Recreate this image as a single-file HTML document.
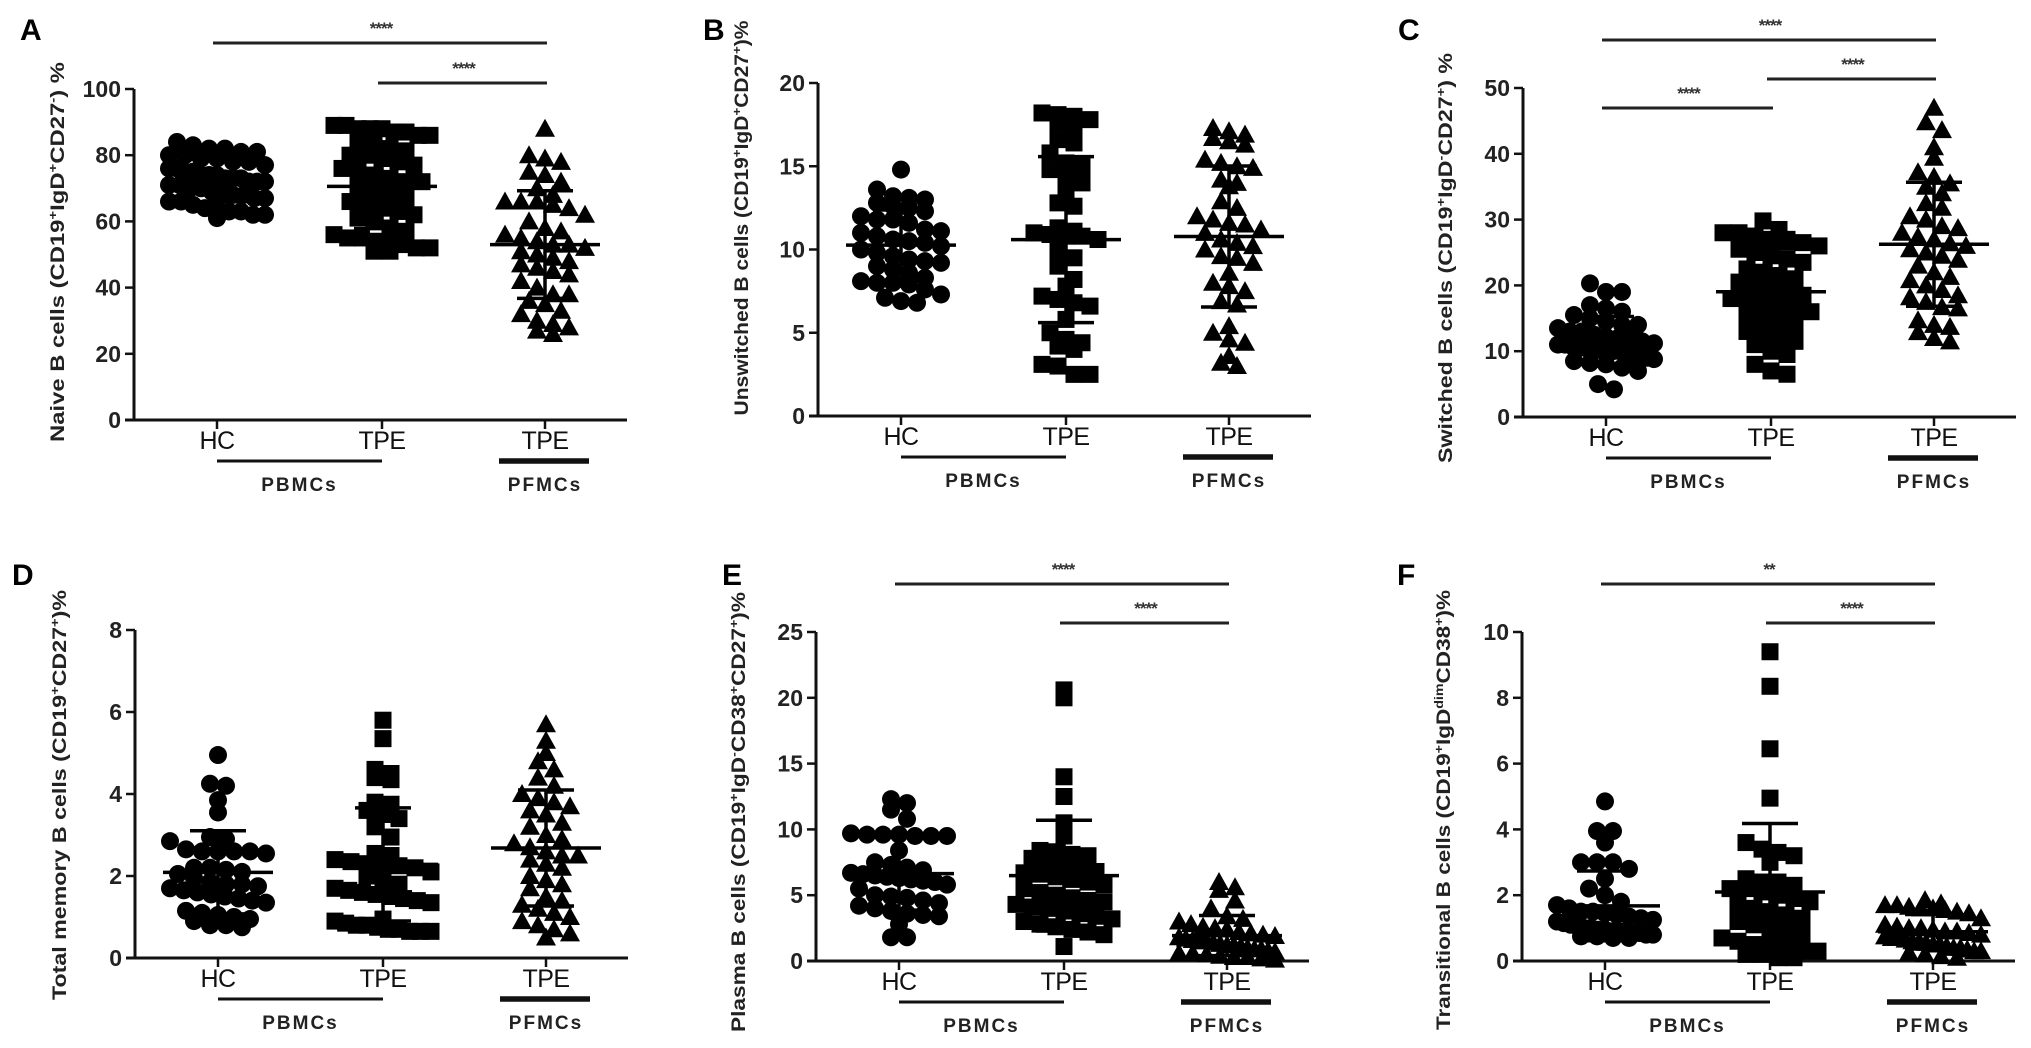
<!DOCTYPE html>
<html><head><meta charset="utf-8"><style>
html,body{margin:0;padding:0;background:#fff;}
svg{display:block;font-family:"Liberation Sans",Arial,sans-serif;}
</style></head><body>
<svg id="fig" width="2031" height="1048" viewBox="0 0 2031 1048" xmlns="http://www.w3.org/2000/svg"></svg>
<script>
// ---- categories ----
const groupLabels = ["HC", "TPE", "TPE"];
const sourceLabels = ["PBMCs", "PFMCs"];
// ---- panel A: naive B cells ----
const naiveHC = [84,83,82,82,81,81,80,80,79,79,78,78,77,76,76,75,75,74,74,74,73,73,73,72,72,72,71,71,70,70,69,69,68,68,67,67,66,66,65,64,64,63,63,62,62,61];
const naiveTPE = [89,89,88,88,88,87,87,86,86,85,84,82,81,80,80,79,78,77,76,75,74,73,72,72,70,69,68,67,66,65,64,63,62,61,60,58,57,56,55,55,54,53,53,52,52,51,51];
const naivePF = [88,80,79,78,75,74,72,70,68,66,66,66,65,64,62,60,58,57,56,55,54,53,53,52,51,50,49,48,47,46,45,44,42,40,38,38,36,35,33,32,30,29,28,27,26];
const naiveTicks = [0,20,40,60,80,100];
// ---- panel B: unswitched ----
const unswHC = [14.8,13.6,13.2,13.1,13.0,12.8,12.6,12.5,12.3,12.0,11.8,11.8,11.6,11.2,11.1,11.0,10.8,10.6,10.5,10.4,10.2,10.0,9.8,9.6,9.4,9.3,9.2,9.0,8.8,8.6,8.3,8.1,8.0,8.0,7.9,7.6,7.3,7.1,6.9,6.8];
const unswTPE = [18.2,18.1,18.0,17.8,17.6,17.2,16.6,16.4,15.8,15.2,15.0,14.8,14.3,14.0,13.6,12.8,12.6,11.3,11.1,11.0,10.9,10.8,10.8,10.6,9.9,9.5,9.0,8.2,7.8,7.2,7.0,6.8,6.6,5.8,5.0,4.6,4.4,4.2,4.0,3.1,3.0,2.5,2.5];
const unswPF = [17.3,17.1,16.9,16.7,16.5,16.3,15.4,15.2,15.0,14.9,14.2,14.0,13.8,12.9,12.5,12.0,11.8,11.6,11.5,11.2,11.0,10.6,10.4,10.2,10.0,9.6,9.5,9.2,8.6,8.0,7.8,7.5,6.9,6.7,5.4,5.0,4.6,4.4,3.6,3.2,3.0];
const unswTicks = [0,5,10,15,20];
// ---- panel C: switched ----
const swHC = [20.3,19,19,17,16.5,16,15.5,15,14.5,14,14,13.5,13,13,12.5,12,12,11.5,11,11,10.5,10.5,10.3,10.2,10,10,10,9.8,9.5,9.2,9,8.8,8.5,8.2,8,7.5,7,5,4.2,10.8,11.2,12.2];
const swTPE = [29.8,28.5,28,28,27.5,27,27,26.5,26,25.5,25,24.5,24,23.5,22.5,22,21.5,21,20.5,20,19.5,19,18.5,18,18,17.5,17,16.5,16,15.5,15,14.5,14,13,12.5,12,11.5,11,10,9.5,8,7,6.5];
const swPF = [47,44.8,43.6,41,39.4,37.2,36.5,35.5,35,34,32.5,31.8,30.5,30,29,28.7,28,27.4,27,26.4,26,25.5,25,24.5,23.9,23,22,21.3,20.8,20,19.3,18.5,18.2,17.5,16.7,16.5,14.7,14,13.7,12.9,12,11.5];
const swTicks = [0,10,20,30,40,50];
// ---- panel D: total memory ----
const memHC = [4.95,4.25,4.2,3.85,3.55,2.95,2.9,2.85,2.65,2.6,2.6,2.6,2.6,2.55,2.2,2.2,2.15,2.1,2.05,1.95,1.85,1.8,1.8,1.75,1.7,1.65,1.6,1.55,1.5,1.45,1.4,1.35,1.15,1.1,1.05,1.0,0.95,0.9,0.8,0.75,0.8];
const memTPE = [5.8,5.35,4.6,4.5,4.4,4.35,3.8,3.75,3.6,3.5,3.4,3.2,2.95,2.55,2.5,2.4,2.35,2.3,2.3,2.25,2.2,2.1,2.0,1.9,1.8,1.7,1.65,1.6,1.55,1.5,1.45,1.4,1.35,0.95,0.9,0.85,0.8,0.75,0.7,0.65,0.65,0.65,0.7,0.8];
const memPF = [5.7,5.3,5.0,4.8,4.6,4.4,4.2,4.0,3.9,3.8,3.7,3.6,3.5,3.3,3.2,3.0,2.9,2.8,2.7,2.6,2.5,2.5,2.4,2.3,2.2,2.0,1.9,1.8,1.7,1.5,1.4,1.3,1.2,1.1,1.0,0.9,0.8,0.7,0.6,0.5];
const memTicks = [0,2,4,6,8];
// ---- panel E: plasma ----
const plaHC = [12.3,12,11.5,10.8,9.7,9.6,9.6,9.6,9.5,9.5,9.5,8.4,7.5,7.3,7.1,6.9,6.7,6.6,6.5,6.4,6.3,6.2,6.1,6,5.8,5.5,5,4.9,4.8,4.6,4.4,4.2,4.0,3.8,3.6,3.5,3.4,2.8,1.8,1.8];
const plaTPE = [20.6,20,14,12.5,10.5,9.5,8.4,8.3,8.1,8.0,7.8,7.5,7.2,7,6.8,6.7,6.6,6.4,6.2,6,5.8,5.5,5.2,5,4.8,4.6,4.5,4.3,4.1,4,3.8,3.6,3.4,3.2,3,2.8,2.6,2.4,2.2,2,1.1];
const plaPF = [6,5.6,5.4,4.6,4,3.4,3.2,3,2.8,2.6,2.5,2.4,2.2,2,1.9,1.8,1.6,1.5,1.4,1.3,1.2,1.1,1,0.9,0.8,0.7,0.6,0.5,0.4,0.3,0.2,0.1,0.3,0.6,0.9,1.2,1.5,1.7,2.1];
const plaTicks = [0,5,10,15,20,25];
// ---- panel F: transitional ----
const trHC = [4.85,3.95,3.95,3.6,3.0,3.0,3.0,2.8,2.5,2.2,2.0,1.8,1.6,1.5,1.4,1.3,1.25,1.2,1.15,1.1,1.05,1.0,1.0,0.95,0.95,0.9,0.9,0.9,0.85,0.85,0.8,0.8,0.75,0.75,0.7,0.7,1.35,1.45,1.5,1.7];
const trTPE = [9.4,8.35,6.45,4.95,3.6,3.4,3.3,3.2,3.0,2.4,2.4,2.3,2.2,2.2,2.1,2.0,1.9,1.8,1.6,1.5,1.4,1.3,1.2,1.0,0.9,0.8,0.7,0.6,0.5,0.5,0.4,0.3,0.3,0.2,0.2,0.1,0.1,1.1,1.7,2.5];
const trPF = [1.85,1.75,1.7,1.7,1.65,1.6,1.6,1.55,1.5,1.45,1.3,1.1,1.05,1.0,1.0,0.95,0.9,0.9,0.85,0.8,0.75,0.7,0.7,0.65,0.6,0.6,0.55,0.5,0.5,0.45,0.4,0.4,0.35,0.3,0.3,0.25,0.2,0.15,0.1];
const trTicks = [0,2,4,6,8,10];
// ---- significance labels ----
const sigA = ["****","****"];
const sigC = ["****","****","****"];
const sigE = ["****","****"];
const sigF = ["**","****"];

const NS = "http://www.w3.org/2000/svg";
const svg = document.getElementById("fig");
function mk(tag, attrs, parent){
  const e = document.createElementNS(NS, tag);
  for (const k in attrs) e.setAttribute(k, attrs[k]);
  (parent||svg).appendChild(e);
  return e;
}
// GraphPad-like binned scatter: points in same row spread side by side, capped width
function swarm(vals, ys, d, maxHalf){
  const out = new Array(vals.length);
  const idx = vals.map((v,i)=>i).sort((a,b)=>vals[b]-vals[a]);
  const bins = {};
  idx.forEach(i=>{
    const b = Math.round(ys(vals[i])/d);
    (bins[b] = bins[b] || []).push(i);
  });
  Object.values(bins).forEach(list=>{
    const n = list.length;
    const sp = n>1 ? Math.min(d, 2*maxHalf/(n-1)) : 0;
    list.forEach((i,k)=>{
      out[i] = (k - (n-1)/2) * sp;
    });
  });
  return out;
}
function drawPanel(cfg){
  const g = mk("g", {});
  
  
  const ax = cfg.ax, y0 = cfg.y0, yT = cfg.yT;
  const tmax = cfg.ticks[cfg.ticks.length-1];
  const ys = v => y0 - (v/tmax)*(y0-yT);
  const gx = [ax+83, ax+248, ax+411];
  const L = mk("text", {x:cfg.lx, y:cfg.ly, "font-size":30, "font-weight":"bold"}, g);
  L.textContent = cfg.letter;
  
  
  const yaxis = mk("line", {x1:ax, y1:y0+1.5, x2:ax, y2:yT, stroke:"#111", "stroke-width":3}, g);
  
  
  const xaxis = mk("line", {x1:ax-9, y1:y0, x2:ax+493, y2:y0, stroke:"#111", "stroke-width":3}, g);
  
  
  cfg.ticks.forEach(t=>{
    const y = ys(t);
    mk("line", {x1:ax-9, y1:y, x2:ax, y2:y, stroke:"#111", "stroke-width":2.5}, g);
    const tl = mk("text", {x:ax-13, y:y+8, "font-size":23, "font-weight":"bold", "text-anchor":"end", fill:"#222"}, g);
    tl.textContent = t;
    
    
  });
  groupLabels.forEach((lab,i)=>{
    mk("line", {x1:gx[i], y1:y0, x2:gx[i], y2:y0+9, stroke:"#111", "stroke-width":2.5}, g);
    const t = mk("text", {x:gx[i], y:y0+29, "font-size":25, "text-anchor":"middle", fill:"#111", "letter-spacing":"-0.5"}, g);
    t.textContent = lab;
    
    
  });
  mk("line", {x1:gx[0], y1:y0+41, x2:gx[1], y2:y0+41, stroke:"#111", "stroke-width":3}, g);
  mk("line", {x1:gx[2]-46, y1:y0+41, x2:gx[2]+44, y2:y0+41, stroke:"#111", "stroke-width":5.5}, g);
  const s1 = mk("text", {x:(gx[0]+gx[1])/2, y:y0+71, "font-size":19, "font-weight":"bold", "text-anchor":"middle", "letter-spacing":"2", fill:"#222"}, g);
  s1.textContent = sourceLabels[0];
  
  
  const s2 = mk("text", {x:gx[2], y:y0+71, "font-size":19, "font-weight":"bold", "text-anchor":"middle", "letter-spacing":"2", fill:"#222"}, g);
  s2.textContent = sourceLabels[1];
  
  
  const yl = mk("text", {x:0, y:0, "font-size":19, "font-weight":"bold", "text-anchor":"middle", fill:"#222",
     transform:`translate(${cfg.ylx},${cfg.ylc}) rotate(-90)`, textLength:cfg.yllen, lengthAdjust:"spacingAndGlyphs"}, g);
  
  
  cfg.ylabel.forEach(part=>{
    const ts = mk("tspan", {}, yl);
    if (part[1]==="sup"){ ts.setAttribute("baseline-shift","super"); ts.setAttribute("font-size","12"); }
    ts.textContent = part[0];
  });
  cfg.series.forEach((vals,i)=>{
    const offs = swarm(vals, ys, 16, 48);
    const cx = gx[i];
    vals.forEach((v,j)=>{
      const x = cx + offs[j], y = ys(v);
      let m;
      if (i===0) m = mk("circle", {cx:x, cy:y, r:9, fill:"#000"}, g);
      else if (i===1) m = mk("rect", {x:x-8.5, y:y-8.5, width:17, height:17, fill:"#000"}, g);
      else m = mk("polygon", {points:`${x},${y-10} ${x-10},${y+8} ${x+10},${y+8}`, fill:"#000"}, g);
      
      
    });
    const mean = vals.reduce((a,b)=>a+b,0)/vals.length;
    const sd = Math.sqrt(vals.reduce((a,b)=>a+(b-mean)**2,0)/(vals.length-1));
    const lo = Math.max(0, mean-sd);
    const ml = mk("line", {x1:cx-55, y1:ys(mean), x2:cx+55, y2:ys(mean), stroke:"#000", "stroke-width":3.5}, g);
    
    
    const el = mk("path", {d:`M${cx},${ys(mean+sd)}V${ys(lo)}M${cx-28},${ys(mean+sd)}H${cx+28}M${cx-28},${ys(lo)}H${cx+28}`, stroke:"#000", "stroke-width":3.5, fill:"none"}, g);
    
    
  });
  cfg.sig.forEach((s,k)=>{
    const a = gx[s.a], b = gx[s.b];
    const sl = mk("line", {x1:a-4, y1:s.y, x2:b+2, y2:s.y, stroke:"#222", "stroke-width":3}, g);
    
    
    const st = mk("text", {x:(a+b)/2, y:s.y-9, "font-size":17, "font-weight":"bold", "text-anchor":"middle", fill:"#333", "letter-spacing":"-1"}, g);
    st.textContent = cfg.sigLabels[k];
    
    
  });
}
const TOP0 = 420, TOPT = 89, BOT0 = 961, BOTT = 632;
drawPanel({name:"panel-a-naive", letter:"A", lx:20, ly:40, ax:134, y0:TOP0, yT:TOPT, ticks:naiveTicks,
  series:[naiveHC,naiveTPE,naivePF], ylx:64, ylc:252, yllen:380,
  ylabel:[["Naive B cells (CD19"],["+","sup"],["IgD"],["+","sup"],["CD27"],["-","sup"],[") %"]],
  sig:[{a:0,b:2,y:43},{a:1,b:2,y:83}], sigLabels:sigA});
drawPanel({name:"panel-b-unswitched", letter:"B", lx:703, ly:40, ax:818, y0:TOP0-4, yT:TOPT-6, ticks:unswTicks,
  series:[unswHC,unswTPE,unswPF], ylx:748, ylc:218, yllen:395,
  ylabel:[["Unswitched B cells (CD19"],["+","sup"],["IgD"],["+","sup"],["CD27"],["+","sup"],[")%"]],
  sig:[], sigLabels:[]});
drawPanel({name:"panel-c-switched", letter:"C", lx:1398, ly:40, ax:1523, y0:TOP0-3, yT:TOPT-1, ticks:swTicks,
  series:[swHC,swTPE,swPF], ylx:1452, ylc:258, yllen:410,
  ylabel:[["Switched B cells (CD19"],["+","sup"],["IgD"],["-","sup"],["CD27"],["+","sup"],[") %"]],
  sig:[{a:0,b:2,y:40},{a:1,b:2,y:79},{a:0,b:1,y:108}], sigLabels:sigC});
drawPanel({name:"panel-d-memory", letter:"D", lx:12, ly:585, ax:135, y0:BOT0-3, yT:BOTT-2, ticks:memTicks,
  series:[memHC,memTPE,memPF], ylx:66, ylc:795, yllen:410,
  ylabel:[["Total memory B cells (CD19"],["+","sup"],["CD27"],["+","sup"],[")%"]],
  sig:[], sigLabels:[]});
drawPanel({name:"panel-e-plasma", letter:"E", lx:722, ly:585, ax:816, y0:BOT0, yT:BOTT, ticks:plaTicks,
  series:[plaHC,plaTPE,plaPF], ylx:745, ylc:812, yllen:440,
  ylabel:[["Plasma B cells (CD19"],["+","sup"],["IgD"],["-","sup"],["CD38"],["+","sup"],["CD27"],["+","sup"],[")%"]],
  sig:[{a:0,b:2,y:584},{a:1,b:2,y:623}], sigLabels:sigE});
drawPanel({name:"panel-f-transitional", letter:"F", lx:1397, ly:585, ax:1522, y0:BOT0, yT:BOTT, ticks:trTicks,
  series:[trHC,trTPE,trPF], ylx:1450, ylc:810, yllen:440,
  ylabel:[["Transitional B cells (CD19"],["+","sup"],["IgD"],["dim","sup"],["CD38"],["+","sup"],[")%"]],
  sig:[{a:0,b:2,y:584},{a:1,b:2,y:623}], sigLabels:sigF});
</script>
</body></html>
